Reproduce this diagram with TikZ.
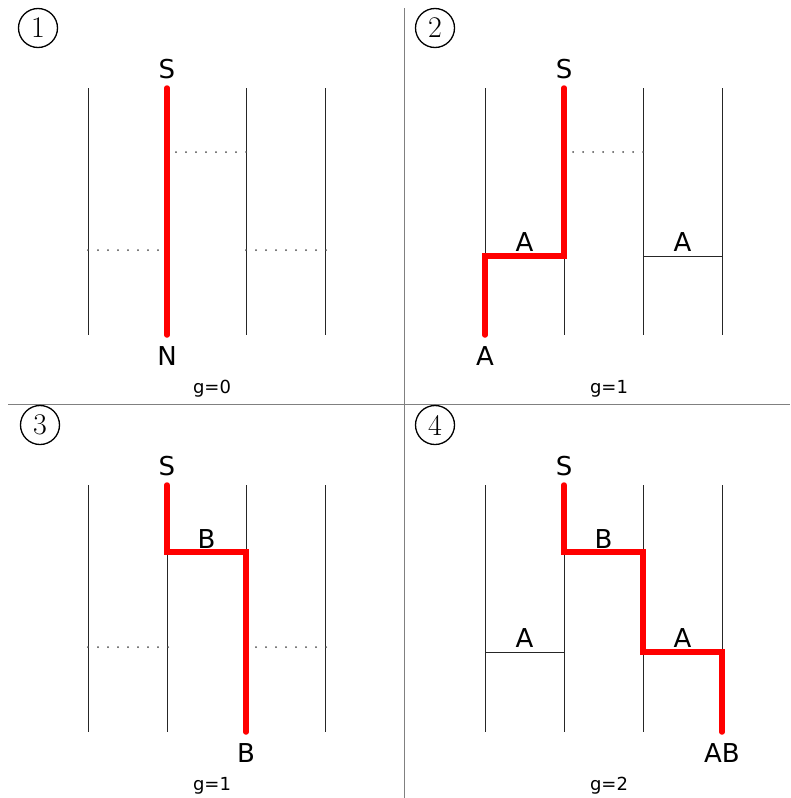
\documentclass[tikz,border=0pt]{standalone}
\usepackage{fontspec}
\newfontfamily\dejavu{DejaVu Sans}
\begin{document}
\begin{tikzpicture}[x=1pt,y=-1pt,
  rail/.style={draw=black!85,line width=1pt},
  rung/.style={draw=black!85,line width=1pt},
  dotmark/.style={fill=black!70,draw=none},
  path/.style={draw=red,line width=5.5pt,line cap=round,line join=miter},
  lbl/.style={font=\dejavu\fontsize{26}{26}\selectfont,anchor=base,inner sep=0pt},
  glbl/.style={font=\dejavu\fontsize{18}{18}\selectfont,anchor=base,inner sep=0pt},
  divider/.style={draw=black!50,line width=1.5pt},
  num/.style={circle,draw=black,line width=1.3pt,minimum size=39pt,inner sep=0pt,font=\fontsize{30}{30}\selectfont}
]
\newcommand\dotrow[3]{\foreach \ii in {0,...,#3} \fill[dotmark] (#1+10*\ii,#2) circle (1pt);}
\useasboundingbox (0,0) rectangle (790,798);
% dividers
\draw[divider] (404.5,8) -- (404.5,798);
\draw[divider] (8,404.5) -- (790,404.5);

% ---------- Panel 1 ----------
\begin{scope}
\node[num] (n1) at (38,28) {1};
\foreach \x in {88,167,246,325} \draw[rail] (\x,88) -- (\x,335);
\dotrow{176}{152}{7}
\dotrow{88}{250}{7}
\dotrow{246}{250}{8}
\coordinate (p1a) at (167,88);
\coordinate (p1b) at (167,335);
\draw[path] (p1a) -- (p1b);
\node[lbl] (s1) at (167,78) {S};
\node[lbl] (e1) at (167,365) {N};
\node[glbl] (g1) at (212,393) {g=0};
\end{scope}

% ---------- Panel 2 ----------
\begin{scope}[shift={(397,0)}]
\node[num] (n2) at (38,28) {2};
\foreach \x in {88,167,246,325} \draw[rail] (\x,88) -- (\x,335);
\dotrow{176}{152}{7}
\draw[rung] (246,256) -- (325,256);
\node[lbl] at (285.5,251) {A};
\node[lbl] at (127.5,251) {A};
\coordinate (p2a) at (167,88);
\coordinate (p2b) at (167,256);
\coordinate (p2c) at (88,256);
\coordinate (p2d) at (88,335);
\draw[path] (p2a) -- (p2b) -- (p2c) -- (p2d);
\node[lbl] (s2) at (167,78) {S};
\node[lbl] (e2) at (88,365) {A};
\node[glbl] (g2) at (212,393) {g=1};
\end{scope}

% ---------- Panel 3 ----------
\begin{scope}[shift={(0,397)}]
\node[num] (n3) at (40,28) {3};
\foreach \x in {88,167,246,325} \draw[rail] (\x,88) -- (\x,335);
\dotrow{88}{250}{8}
\dotrow{256}{250}{7}
\node[lbl] at (206.5,151) {B};
\coordinate (p3a) at (167,88);
\coordinate (p3b) at (167,155);
\coordinate (p3c) at (246,155);
\coordinate (p3d) at (246,335);
\draw[path] (p3a) -- (p3b) -- (p3c) -- (p3d);
\node[lbl] (s3) at (167,78) {S};
\node[lbl] (e3) at (246,365) {B};
\node[glbl] (g3) at (212,393) {g=1};
\end{scope}

% ---------- Panel 4 ----------
\begin{scope}[shift={(397,397)}]
\node[num] (n4) at (38,28) {4};
\foreach \x in {88,167,246,325} \draw[rail] (\x,88) -- (\x,335);
\draw[rung] (88,255) -- (167,255);
\node[lbl] at (127.5,250) {A};
\node[lbl] at (206.5,151) {B};
\node[lbl] at (285.5,250) {A};
\coordinate (p4a) at (167,88);
\coordinate (p4b) at (167,155);
\coordinate (p4c) at (246,155);
\coordinate (p4d) at (246,255);
\coordinate (p4e) at (325,255);
\coordinate (p4f) at (325,335);
\draw[path] (p4a) -- (p4b) -- (p4c) -- (p4d) -- (p4e) -- (p4f);
\node[lbl] (s4) at (167,78) {S};
\node[lbl] (e4) at (325,365) {AB};
\node[glbl] (g4) at (212,393) {g=2};
\end{scope}
\end{tikzpicture}
\end{document}
